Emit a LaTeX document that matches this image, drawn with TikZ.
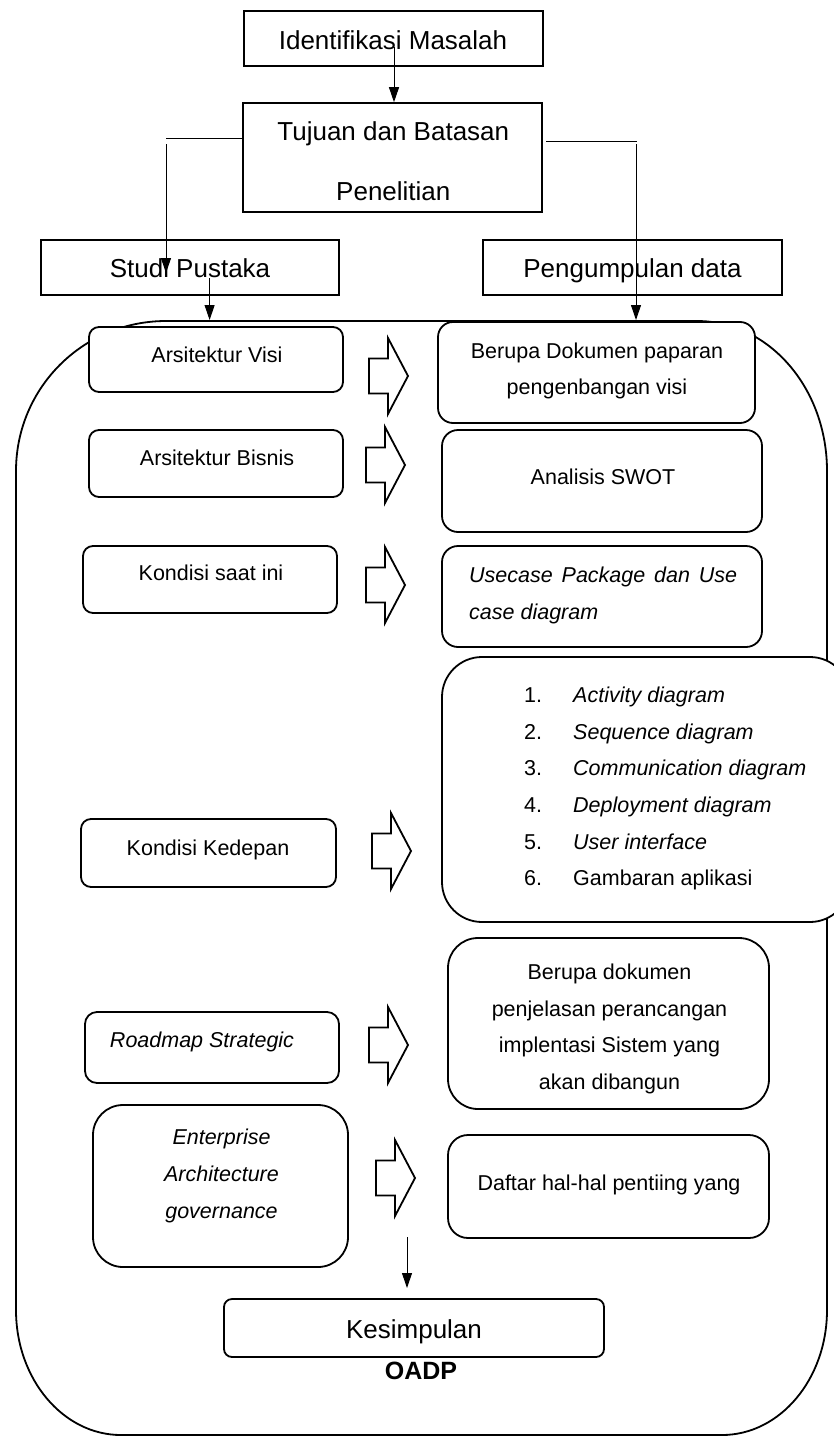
\documentclass[tikz,border=0pt]{standalone}
\usepackage{fontspec}
\setmainfont{Liberation Sans}
\usetikzlibrary{arrows.meta,calc}
\begin{document}
\begin{tikzpicture}[x=1pt,y=-1pt,
  box/.style={draw, line width=1.8pt, fill=white, inner sep=0pt, rounded corners=#1},
  box/.default=10pt,
  sqbox/.style={draw, line width=1.6pt, fill=white, inner sep=0pt},
  bigtxt/.style={font=\fontsize{26}{30}\selectfont, inner sep=0pt, align=center},
  smtxt/.style={font=\fontsize{21.5}{36.7}\selectfont, inner sep=0pt, align=center},
  bigone/.style={bigtxt, text height=18.7pt, text depth=0pt},
  smone/.style={smtxt, text height=15.5pt, text depth=0pt},
  conn/.style={line width=1pt, -{Triangle[width=10pt,length=15pt]}},
  plainline/.style={line width=1pt},
  blk/.style={draw, line width=1.8pt, fill=white, line join=miter},
  pics/blockarrow/.style={code={\draw[blk] (0,-17.5) -- (19,-17.5) -- (19,-38) -- (39,0) -- (19,38) -- (19,17.5) -- (0,17.5) -- cycle;}}
]
\useasboundingbox (0,0) rectangle (833,1437);

% big rounded frame
\draw[line width=1.8pt] (166,321) -- (697,321)
  .. controls (769,321) and (827,388) .. (827,471) -- (827,1310)
  .. controls (827,1379) and (780,1435) .. (722,1435) -- (121,1435)
  .. controls (63,1435) and (16,1379) .. (16,1310) -- (16,471)
  .. controls (16,388) and (83,321) .. (166,321) -- cycle;

% top boxes
\node[sqbox, minimum width=299pt, minimum height=55pt] (ident) at (393.5,38.5) {};
\node[sqbox, minimum width=299pt, minimum height=109pt] (tujuan) at (392.5,157.5) {};
\node[sqbox, minimum width=298pt, minimum height=55pt] (studi) at (190,267.5) {};
\node[sqbox, minimum width=299pt, minimum height=55pt] (kumpul) at (632.5,267.5) {};

% left column boxes
\node[box, minimum width=254pt, minimum height=65pt] (visi) at (216,359.5) {};
\node[box, minimum width=254pt, minimum height=67pt] (bisnis) at (216,463.5) {};
\node[box, minimum width=254pt, minimum height=67pt] (kini) at (210,579.5) {};
\node[box, minimum width=255pt, minimum height=68pt] (kedepan) at (208.5,853) {};
\node[box=12pt, minimum width=254pt, minimum height=71pt] (roadmap) at (212,1047.5) {};
\node[box=30pt, minimum width=255pt, minimum height=162pt] (eag) at (220.5,1186) {};

% right column boxes
\node[box=15pt, minimum width=317pt, minimum height=101pt] (r1) at (596.5,372.5) {};
\node[box=16pt, minimum width=320pt, minimum height=102pt] (r2) at (602,481) {};
\node[box=16pt, minimum width=320pt, minimum height=101pt] (r3) at (602,596.5) {};
\node[box=40pt, minimum width=408pt, minimum height=265pt] (r4) at (646,789.5) {};
\node[box=30pt, minimum width=321pt, minimum height=171pt] (r5) at (608.5,1023.5) {};
\node[box=20pt, minimum width=321pt, minimum height=103pt] (r6) at (608.5,1186.5) {};
\node[box=8pt, minimum width=380pt, minimum height=58pt] (kes) at (414,1328) {};

% block arrows
\pic at (369,376) {blockarrow};
\pic at (366,465) {blockarrow};
\pic at (366,585) {blockarrow};
\pic at (372,851) {blockarrow};
\pic at (369,1045) {blockarrow};
\pic at (376,1178) {blockarrow};

% texts
\node[bigone] (tident) at (393,40) {Identifikasi Masalah};
\node[bigtxt, font=\fontsize{26}{60}\selectfont] (ttujuan) at (393.3,161.7) {Tujuan dan Batasan\\Penelitian};
\node[bigone] (tstudi) at (190,268) {Studi Pustaka};
\node[bigone] (tkumpul) at (632.5,268) {Pengumpulan data};

\node[smone] (tvisi) at (217,355) {Arsitektur Visi};
\node[smone] (tbisnis) at (217,458) {Arsitektur Bisnis};
\node[smone] (tkini) at (211,573) {Kondisi saat ini};
\node[smone] (tkedepan) at (208,848) {Kondisi Kedepan};
\node[smone] (troadmap) at (202,1040) {\itshape Roadmap Strategic};
\node[smtxt] (teag) at (221.5,1176) {\itshape Enterprise\\\itshape Architecture\\\itshape governance};

\node[smtxt] (tr1) at (597,371) {Berupa Dokumen paparan\\pengenbangan visi};
\node[smone] (tr2) at (603,477) {Analisis SWOT};
\node[smtxt, align=left, anchor=west] (tr3) at (469,595.5) {\makebox[268pt][s]{\itshape Usecase Package dan Use}\\\itshape case diagram};
\node[smtxt, align=left, anchor=west] (tr4) at (524,788.5) {%
\makebox[49pt][l]{1.}\textit{Activity diagram}\\
\makebox[49pt][l]{2.}\textit{Sequence diagram}\\
\makebox[49pt][l]{3.}\textit{Communication diagram}\\
\makebox[49pt][l]{4.}\textit{Deployment diagram}\\
\makebox[49pt][l]{5.}\textit{User interface}\\
\makebox[49pt][l]{6.}Gambaran aplikasi};
\node[smtxt] (tr5) at (609.5,1029) {Berupa dokumen\\penjelasan perancangan\\implentasi Sistem yang\\akan dibangun};
\node[smone] (tr6) at (609,1183) {Daftar hal-hal pentiing yang};
\node[bigone] (tkes) at (414,1329) {Kesimpulan};
\node[bigone, font=\fontsize{25}{30}\selectfont\bfseries, text height=18pt] (toadp) at (421,1370) {OADP};

% connectors
\coordinate (a1) at (394,47);
\draw[conn] (a1) -- (a1 |- tujuan.north);
\coordinate (l1) at (tujuan.west |- 0,138);
\coordinate (l2) at (166,138);
\coordinate (l3) at (166,144);
\coordinate (l4) at (166,273);
\draw[plainline] (l1) -- (l2);
\draw[conn] (l3) -- (l4);
\coordinate (q1) at (546,141);
\coordinate (q2) at (637,141);
\coordinate (q3) at (636,144);
\coordinate (q4) at (636,320);
\draw[plainline] (q1) -- (q2);
\draw[conn] (q3) -- (q4);
\coordinate (s1) at (209.6,278);
\coordinate (s2) at (209.6,320);
\draw[conn] (s1) -- (s2);
\coordinate (d1) at (407,1237);
\coordinate (d2) at (407,1288);
\draw[conn] (d1) -- (d2);
\end{tikzpicture}
\end{document}
